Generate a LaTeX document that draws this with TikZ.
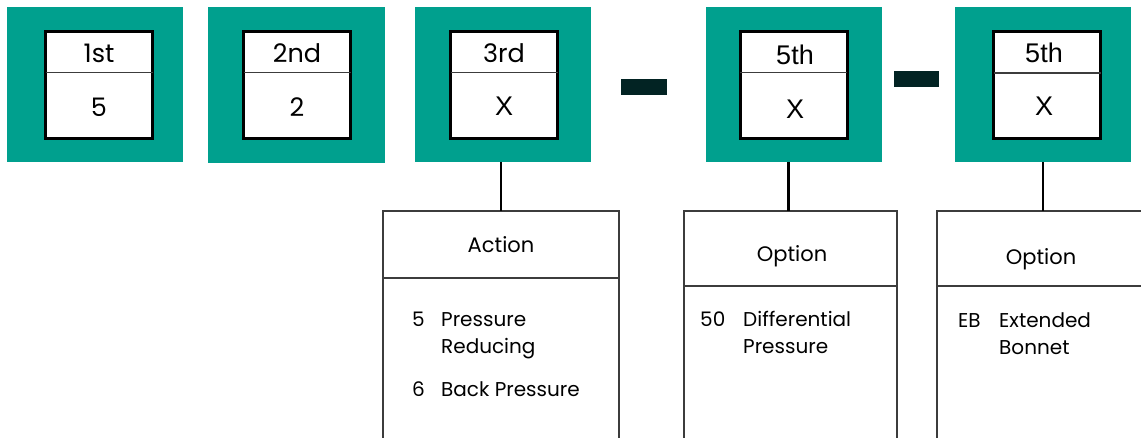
\documentclass[tikz,border=0pt]{standalone}
\usepackage{fontspec}
\setmainfont{Poppins}
\newfontfamily\arialf{Liberation Sans}
\definecolor{tealbg}{RGB}{0,160,142}
\definecolor{dashc}{RGB}{2,35,35}
\definecolor{boxline}{RGB}{60,60,60}
\tikzset{
  outerbox/.style={fill=tealbg, draw=none, anchor=north west, inner sep=0, outer sep=0, minimum width=176pt, minimum height=155pt},
  innerbox/.style={fill=white, draw=black, line width=3pt, anchor=north west, inner sep=0, outer sep=0, minimum width=107pt, minimum height=107pt},
  divider/.style={draw=boxline, line width=1.3pt},
  dashbar/.style={fill=dashc, draw=none, anchor=north west, inner sep=0, outer sep=0, minimum width=46pt, minimum height=16pt},
  conn/.style={draw=black, line width=2.5pt},
  lowbox/.style={draw=boxline, line width=1.3pt, fill=white, anchor=north west, inner sep=0, outer sep=0},
  bigtxt/.style={anchor=base, inner sep=0, font=\fontsize{25.5}{30}\selectfont},
  bigtxtA/.style={anchor=base, inner sep=0, font=\arialf\fontsize{27}{30}\selectfont},
  hdtxt/.style={anchor=base, inner sep=0, font=\fontsize{21}{25}\selectfont},
  itemtxt/.style={anchor=base west, inner sep=0, font=\fontsize{20}{27}\selectfont},
}
\begin{document}
\begin{tikzpicture}[x=1pt,y=-1pt]
\useasboundingbox (0,0) rectangle (1141,438);
% teal boxes
\node[outerbox] (t1) at (7,7) {};
\node[outerbox, minimum width=177pt, minimum height=156pt] (t2) at (208,7) {};
\node[outerbox] (t3) at (415,7) {};
\node[outerbox] (t4) at (706,7) {};
\node[outerbox] (t5) at (955,7) {};
% inner boxes
\node[innerbox] (i1) at (45.5,31.5) {};
\node[innerbox] (i2) at (243.5,31.5) {};
\node[innerbox] (i3) at (450.5,31.5) {};
\node[innerbox] (i4) at (740,31.5) {};
\node[innerbox] (i5) at (993.5,32) {};
\foreach \n in {1,...,5}{
  \draw[divider] ([yshift=-41pt]i\n.north west) -- ([yshift=-41pt]i\n.north east);
}
% texts top boxes
\node[bigtxt] (h1) at (99,63) {1st};
\node[bigtxt] (v1) at (99,117) {5};
\node[bigtxt] (h2) at (297,63) {2nd};
\node[bigtxt] (v2) at (297,117) {2};
\node[bigtxt] (h3) at (504,63) {3rd};
\node[bigtxtA] (v3) at (504,116) {X};
\node[bigtxtA] (h4) at (795,65) {5th};
\node[bigtxtA] (v4) at (795,119) {X};
\node[bigtxtA] (h5) at (1044,63) {5th};
\node[bigtxtA] (v5) at (1044,116) {X};
% dashes
\node[dashbar] (d1) at (621,79) {};
\node[dashbar, minimum width=45pt] (d2) at (894,71) {};
% lower boxes
\node[lowbox, minimum width=236pt, minimum height=67pt] (a) at (383,211) {};
\node[lowbox, minimum width=236pt, minimum height=170pt, anchor=north] (ab) at (a.south) {};
\node[lowbox, minimum width=213pt, minimum height=75pt] (b) at (684,211) {};
\node[lowbox, minimum width=213pt, minimum height=170pt, anchor=north] (bb) at (b.south) {};
\node[lowbox, minimum width=212pt, minimum height=75pt] (c) at (937,211) {};
\node[lowbox, minimum width=212pt, minimum height=170pt, anchor=north] (cb) at (c.south) {};
% connectors
\draw[conn] (a.north |- t3.south) -- (a.north);
\draw[conn] ([xshift=-2pt]b.north |- t4.south) -- ([xshift=-2pt]b.north);
\draw[conn] (c.north |- t5.south) -- (c.north);
% headers
\node[hdtxt] (ah) at (501,253) {Action};
\node[hdtxt] (bh) at (792,262) {Option};
\node[hdtxt] (ch) at (1041,265) {Option};
% items
\node[itemtxt] (a5) at (412,327) {5};
\node[itemtxt] (a5t) at (441,327) {Pressure};
\node[itemtxt] (a5u) at (441,354) {Reducing};
\node[itemtxt] (a6) at (412,396) {6};
\node[itemtxt] (a6t) at (441,396) {Back Pressure};
\node[itemtxt] (b50) at (700,327) {50};
\node[itemtxt] (b50t) at (743,327) {Differential};
\node[itemtxt] (b50u) at (743,354) {Pressure};
\node[itemtxt] (ceb) at (958,328) {EB};
\node[itemtxt] (cebt) at (999,328) {Extended};
\node[itemtxt] (cebu) at (999,355) {Bonnet};
\end{tikzpicture}
\end{document}
